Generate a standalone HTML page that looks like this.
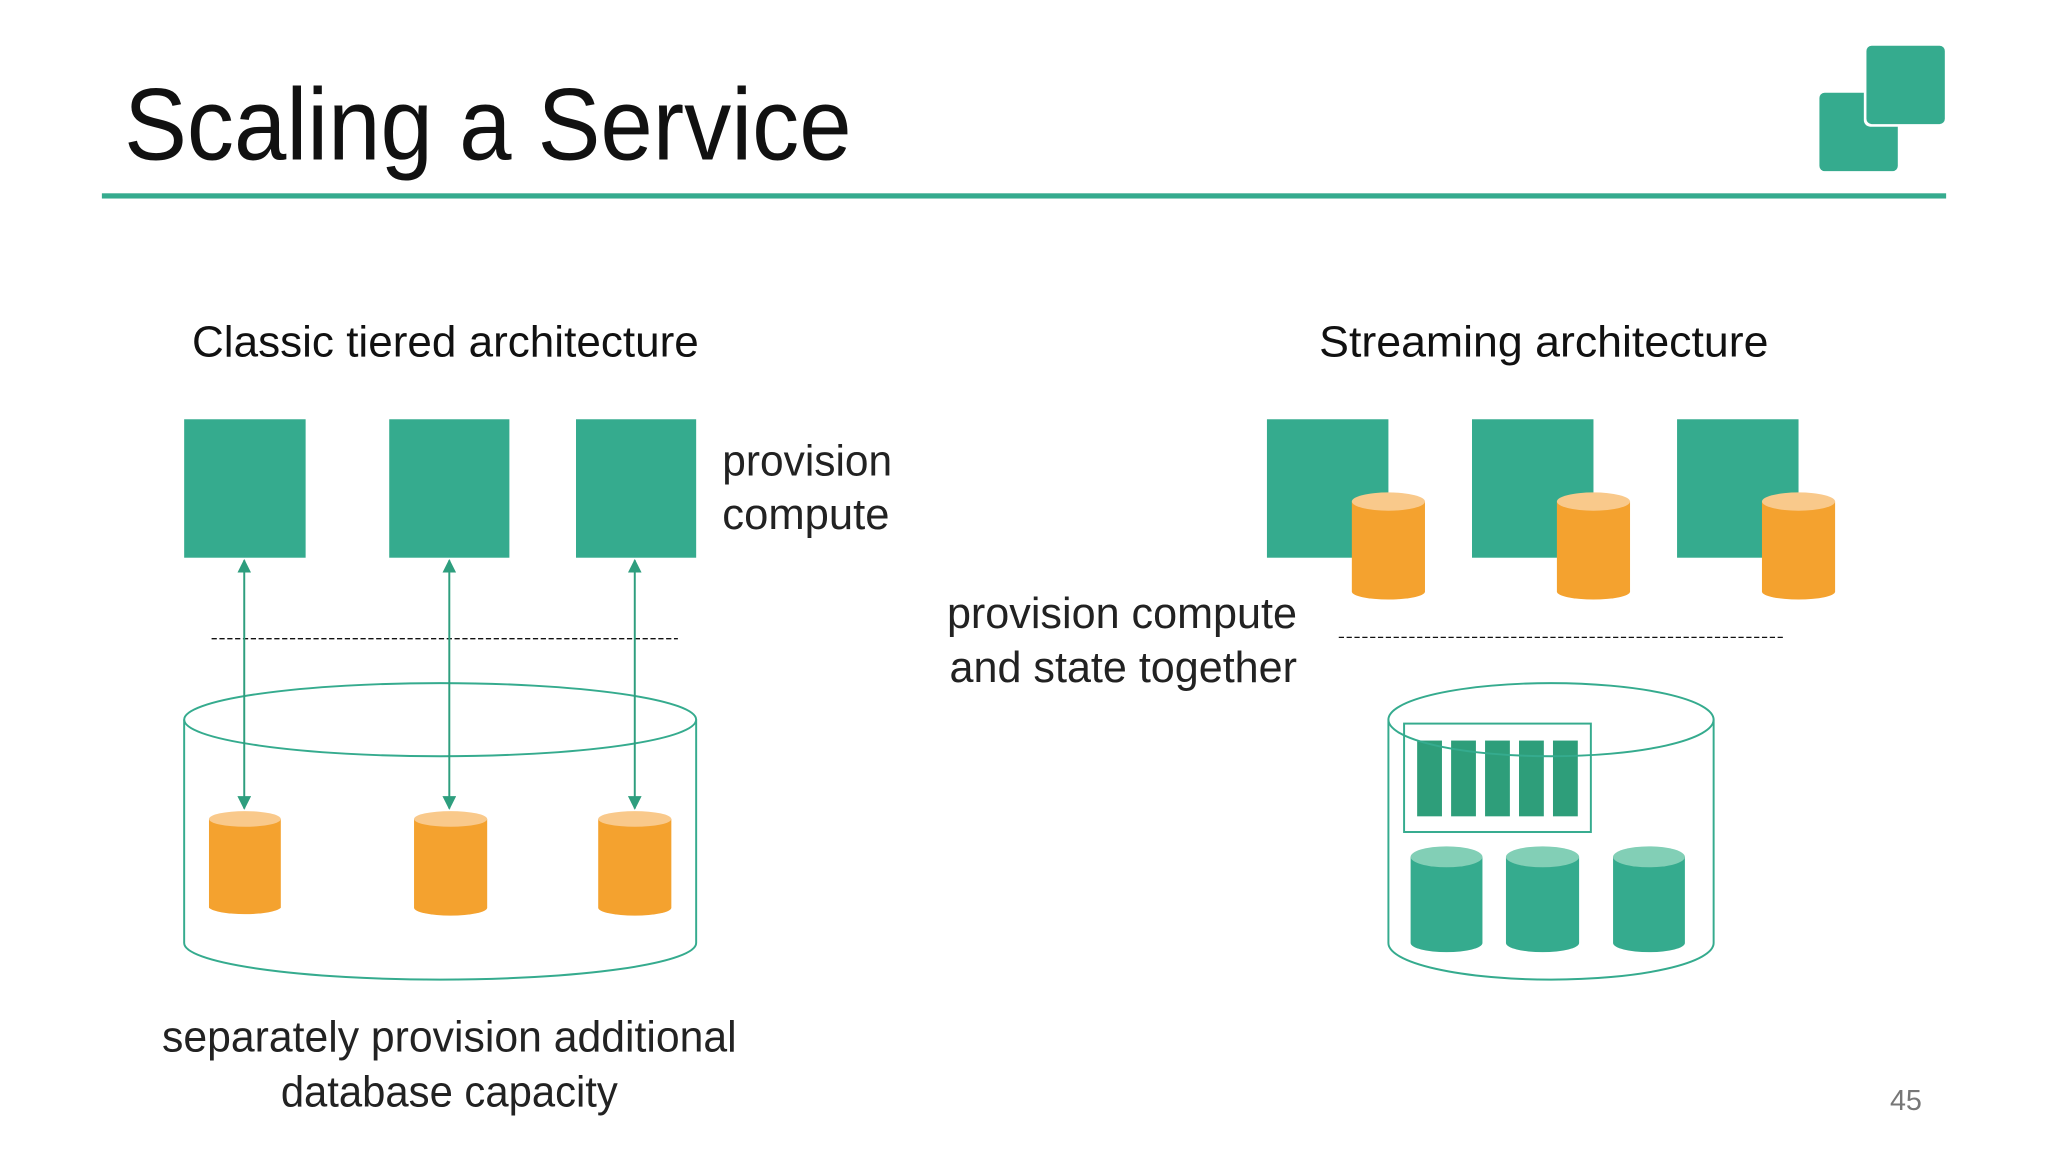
<!DOCTYPE html>
<html><head><meta charset="utf-8"><style>html,body{margin:0;padding:0;background:#fff}svg{display:block}</style></head>
<body>
<svg width="2048" height="1152" viewBox="0 0 1568 882" xmlns="http://www.w3.org/2000/svg" font-family="Liberation Sans, sans-serif">
<defs>
<marker id="ah" viewBox="0 0 10 10" refX="9" refY="5" markerWidth="7" markerHeight="7" orient="auto-start-reverse"><path d="M0,0 L10,5 L0,10 z" fill="#2e9e7e"/></marker>
</defs>
<rect width="1568" height="882" fill="#fff"/>
<text x="95" y="122" font-size="78" fill="#111" textLength="557" lengthAdjust="spacingAndGlyphs">Scaling a Service</text>
<rect x="78" y="148" width="1412" height="4" fill="#35ab8e"/>
<rect x="1393" y="71" width="60" height="60" rx="4" fill="#35ab8e"/>
<rect x="1427" y="33" width="64" height="64" rx="5" fill="#fff"/>
<rect x="1429" y="35" width="60" height="60" rx="4" fill="#35ab8e"/>

<text x="147" y="273" font-size="33" fill="#111" textLength="388" lengthAdjust="spacingAndGlyphs">Classic tiered architecture</text>
<text x="1010" y="273" font-size="33" fill="#111" textLength="344" lengthAdjust="spacingAndGlyphs">Streaming architecture</text>

<g fill="#35ab8e">
<rect x="141" y="321" width="93" height="106"/>
<rect x="298" y="321" width="92" height="106"/>
<rect x="441" y="321" width="92" height="106"/>
<rect x="970" y="321" width="93" height="106"/>
<rect x="1127" y="321" width="93" height="106"/>
<rect x="1284" y="321" width="93" height="106"/>
</g>
<g font-size="33" fill="#222">
<text x="553" y="364" textLength="130" lengthAdjust="spacingAndGlyphs">provision</text>
<text x="553" y="405" textLength="128" lengthAdjust="spacingAndGlyphs">compute</text>
<text x="993" y="481" text-anchor="end" textLength="268" lengthAdjust="spacingAndGlyphs">provision compute</text>
<text x="993" y="522" text-anchor="end" textLength="266" lengthAdjust="spacingAndGlyphs">and state together</text>
<text x="344" y="805" text-anchor="middle" textLength="440" lengthAdjust="spacingAndGlyphs">separately provision additional</text>
<text x="344" y="847" text-anchor="middle" textLength="258" lengthAdjust="spacingAndGlyphs">database capacity</text>
</g>
<text x="1447" y="850" font-size="22" fill="#777">45</text>

<g stroke="#111" stroke-width="1" stroke-dasharray="4,2">
<line x1="162" y1="489" x2="519" y2="489"/>
<line x1="1025" y1="488" x2="1365" y2="488"/>
</g>

<!-- left big cylinder -->
<g fill="none" stroke="#35ab8e" stroke-width="1.5">
<ellipse cx="337" cy="551" rx="196" ry="28"/>
<path d="M141,551 V722 A196,28 0 0 0 533,722 V551"/>
</g>
<!-- orange cylinders left -->
<g>
<g transform="translate(160,621)"><path d="M0,6 V74 A28,6 0 0 0 55,74 V6 z" fill="#f4a22f"/><ellipse cx="27.5" cy="6" rx="27.5" ry="6" fill="#f9c98b"/></g>
<g transform="translate(317,621)"><path d="M0,6 V74 A28,6 0 0 0 56,74 V6 z" fill="#f4a22f"/><ellipse cx="28" cy="6" rx="28" ry="6" fill="#f9c98b"/></g>
<g transform="translate(458,621)"><path d="M0,6 V74 A28,6 0 0 0 56,74 V6 z" fill="#f4a22f"/><ellipse cx="28" cy="6" rx="28" ry="6" fill="#f9c98b"/></g>
<g transform="translate(1035,377)"><path d="M0,7 V76 A28,6 0 0 0 56,76 V7 z" fill="#f4a22f"/><ellipse cx="28" cy="7" rx="28" ry="7" fill="#f9c98b"/></g>
<g transform="translate(1192,377)"><path d="M0,7 V76 A28,6 0 0 0 56,76 V7 z" fill="#f4a22f"/><ellipse cx="28" cy="7" rx="28" ry="7" fill="#f9c98b"/></g>
<g transform="translate(1349,377)"><path d="M0,7 V76 A28,6 0 0 0 56,76 V7 z" fill="#f4a22f"/><ellipse cx="28" cy="7" rx="28" ry="7" fill="#f9c98b"/></g>
</g>
<!-- arrows -->
<g stroke="#2e9e7e" stroke-width="1.5" marker-start="url(#ah)" marker-end="url(#ah)">
<line x1="187" y1="429" x2="187" y2="619"/>
<line x1="344" y1="429" x2="344" y2="619"/>
<line x1="486" y1="429" x2="486" y2="619"/>
</g>

<!-- right big cylinder -->
<g fill="none" stroke="#35ab8e" stroke-width="1.5">
<path d="M1063,551 V722 A124.5,28 0 0 0 1312,722 V551"/>
</g>
<g fill="#2e9e7a">
<rect x="1085" y="567" width="19" height="58"/>
<rect x="1111" y="567" width="19" height="58"/>
<rect x="1137" y="567" width="19" height="58"/>
<rect x="1163" y="567" width="19" height="58"/>
<rect x="1189" y="567" width="19" height="58"/>
</g>
<rect x="1075" y="554" width="143" height="83" fill="none" stroke="#35ab8e" stroke-width="1.5"/>
<ellipse cx="1187.5" cy="551" rx="124.5" ry="28" fill="none" stroke="#35ab8e" stroke-width="1.5"/>
<g>
<g transform="translate(1080,648)"><path d="M0,8 V74 A27.5,7 0 0 0 55,74 V8 z" fill="#35ab8e"/><ellipse cx="27.5" cy="8" rx="27.5" ry="8" fill="#82cfb6"/></g>
<g transform="translate(1153,648)"><path d="M0,8 V74 A28,7 0 0 0 56,74 V8 z" fill="#35ab8e"/><ellipse cx="28" cy="8" rx="28" ry="8" fill="#82cfb6"/></g>
<g transform="translate(1235,648)"><path d="M0,8 V74 A27.5,7 0 0 0 55,74 V8 z" fill="#35ab8e"/><ellipse cx="27.5" cy="8" rx="27.5" ry="8" fill="#82cfb6"/></g>
</g>
</svg>
</body></html>
